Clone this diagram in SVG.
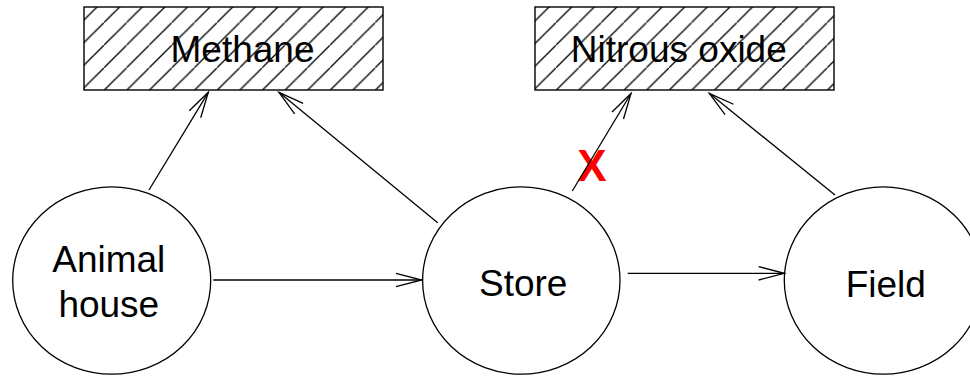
<svg xmlns="http://www.w3.org/2000/svg" width="970" height="377" viewBox="0 0 970 377">
<style>
.node{fill:#fff;stroke:#000;stroke-width:1.3}
.box{fill:url(#hatch);stroke:#000;stroke-width:1.4}
.lbl{font-family:"Liberation Sans",Arial,sans-serif;font-size:37px;fill:#000;text-anchor:middle}
.edge{stroke:#000;stroke-width:1.3;fill:none;marker-end:url(#arr)}
.cross{font-family:"Liberation Sans",Arial,sans-serif;font-size:44px;font-weight:bold;fill:#ff0000;text-anchor:middle}
</style>
<defs>
<pattern id="hatch" patternUnits="userSpaceOnUse" x="13.6" y="0" width="22.6" height="22.6">
<path d="M-2,24.6 L24.6,-2" stroke="#000" stroke-width="1.3"/>
</pattern>
<marker id="arr" markerUnits="userSpaceOnUse" orient="auto" refX="0" refY="0" markerWidth="60" markerHeight="60" overflow="visible">
<path d="M-25.7,-6.7 L0,0 L-25.7,6.7" fill="none" stroke="#000" stroke-width="1.3"/>
</marker>
</defs>
<rect width="970" height="377" fill="#fff"/>
<g id="methane">
<rect class="box" x="84" y="7" width="299" height="83"/>
<text class="lbl" x="242.5" y="62">Methane</text>
</g>
<g id="nitrous-oxide">
<rect class="box" x="535" y="7" width="299" height="83"/>
<text class="lbl" x="678.8" y="62">Nitrous oxide</text>
</g>
<g id="animal-house">
<ellipse class="node" cx="111.7" cy="280.5" rx="99" ry="93.7"/>
<text class="lbl" x="108.8" y="271.7">Animal</text>
<text class="lbl" x="108.8" y="316.7">house</text>
</g>
<g id="store">
<ellipse class="node" cx="521.3" cy="280.5" rx="98.7" ry="93.7"/>
<text class="lbl" x="523.2" y="295.7">Store</text>
</g>
<g id="field">
<ellipse class="node" cx="883.3" cy="280.5" rx="99" ry="93.7"/>
<text class="lbl" x="885.8" y="296.5">Field</text>
</g>
<text class="cross" x="592" y="181">X</text>
<g id="connectors">
<line class="edge" x1="149" y1="190" x2="208.3" y2="92.3"/>
<line class="edge" x1="437.7" y1="222.7" x2="279" y2="92.3"/>
<line class="edge" x1="213.3" y1="280" x2="421.7" y2="280"/>
<line class="edge" x1="627.7" y1="273.3" x2="784.3" y2="273.3"/>
<line class="edge" x1="572.3" y1="191" x2="631" y2="93.5"/>
<line class="edge" x1="835" y1="195" x2="709.3" y2="93.3"/>
</g>
</svg>
